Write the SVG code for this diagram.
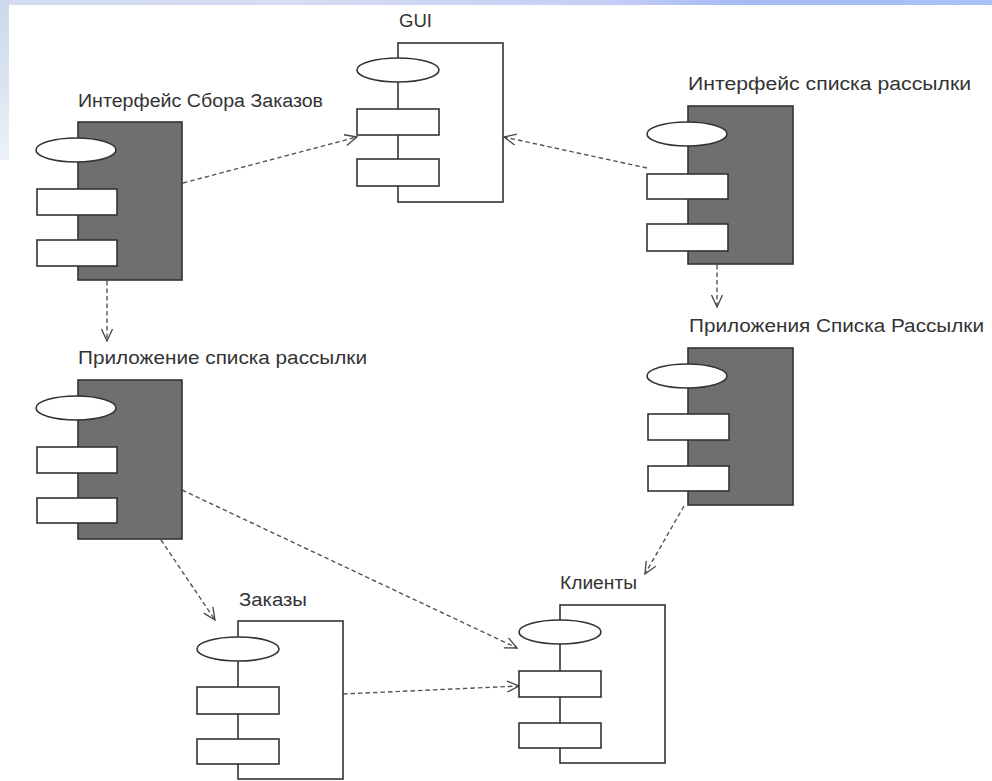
<svg xmlns="http://www.w3.org/2000/svg" width="992" height="781" viewBox="0 0 992 781">
  <defs>
    <linearGradient id="topBand" x1="0" y1="0" x2="1" y2="0">
      <stop offset="0" stop-color="#d3ddef"/>
      <stop offset="0.3" stop-color="#d6dcf2"/>
      <stop offset="0.62" stop-color="#c4cdf6"/>
      <stop offset="0.75" stop-color="#a5b9f6"/>
      <stop offset="1" stop-color="#aac2f6"/>
    </linearGradient>
    <linearGradient id="sideBand" x1="0" y1="0" x2="0" y2="1">
      <stop offset="0" stop-color="#cdd9ec"/>
      <stop offset="0.5" stop-color="#d9e3f0"/>
      <stop offset="1" stop-color="#eef2f8"/>
    </linearGradient>
    <marker id="open" viewBox="0 0 14 14" refX="13" refY="7" markerWidth="14" markerHeight="14" markerUnits="userSpaceOnUse" orient="auto">
      <path d="M1,1.5 L13,7 L1,12.5" fill="none" stroke="#444" stroke-width="1.3"/>
    </marker>
  </defs>
  <style>
    .box-dark { fill: #6f6f6f; stroke: #333; stroke-width: 1.6; }
    .box-light { fill: #fff; stroke: #333; stroke-width: 1.6; }
    .port { fill: #fff; stroke: #333; stroke-width: 1.6; }
    .label { font-family: "Liberation Sans", Arial, sans-serif; font-size: 18px; fill: #333; }
    .dep { fill: none; stroke: #555; stroke-width: 1.4; stroke-dasharray: 4.5 3; marker-end: url(#open); }
  </style>

  <!-- page background with faded blue band along top and upper left -->
  <rect x="0" y="0" width="992" height="781" fill="#fff"/>
  <rect x="0" y="0" width="992" height="5" fill="url(#topBand)"/>
  <rect x="0" y="0" width="9" height="160" fill="url(#sideBand)"/>

  <!-- dependencies -->
  <g id="connectors">
    <path class="dep" d="M183,183 L357,137"/>
    <path class="dep" d="M647,168 L504,137"/>
    <path class="dep" d="M717,265 L717,307"/>
    <path class="dep" d="M107,281 L107,341"/>
    <path class="dep" d="M182,490 L517,648"/>
    <path class="dep" d="M161,540 L215,620"/>
    <path class="dep" d="M343,694 L519,686"/>
    <path class="dep" d="M684,506 L645,574"/>
  </g>

  <!-- component: box 104x158, lollipop and two ports on the left edge -->
  <g id="order-collection-ui">
    <rect class="box-dark" x="78" y="122" width="104" height="158"/>
    <ellipse class="port" cx="76" cy="150" rx="40" ry="12"/>
    <rect class="port" x="37" y="189" width="80" height="26"/>
    <rect class="port" x="37" y="240" width="80" height="26"/>
    <text class="label" x="78" y="107" textLength="245" lengthAdjust="spacingAndGlyphs">Интерфейс Сбора Заказов</text>
  </g>

  <g id="gui">
    <rect class="box-light" x="398" y="43" width="105" height="159"/>
    <ellipse class="port" cx="398" cy="70" rx="41" ry="12"/>
    <rect class="port" x="357" y="109" width="82" height="26"/>
    <rect class="port" x="357" y="159" width="82" height="27"/>
    <text class="label" x="399" y="27" textLength="33" lengthAdjust="spacingAndGlyphs">GUI</text>
  </g>

  <g id="mailing-list-ui">
    <rect class="box-dark" x="688" y="106" width="105" height="158"/>
    <ellipse class="port" cx="687" cy="134" rx="40" ry="12"/>
    <rect class="port" x="647" y="174" width="81" height="25"/>
    <rect class="port" x="647" y="224" width="81" height="27"/>
    <text class="label" x="688" y="90" textLength="283" lengthAdjust="spacingAndGlyphs">Интерфейс списка рассылки</text>
  </g>

  <g id="mailing-list-apps">
    <rect class="box-dark" x="688" y="348" width="105" height="157"/>
    <ellipse class="port" cx="687" cy="376" rx="40" ry="12"/>
    <rect class="port" x="648" y="414" width="81" height="26"/>
    <rect class="port" x="648" y="466" width="81" height="25"/>
    <text class="label" x="689" y="332" textLength="295" lengthAdjust="spacingAndGlyphs">Приложения Списка Рассылки</text>
  </g>

  <g id="mailing-list-app">
    <rect class="box-dark" x="78" y="380" width="104" height="159"/>
    <ellipse class="port" cx="76" cy="408" rx="40" ry="12"/>
    <rect class="port" x="37" y="447" width="80" height="26"/>
    <rect class="port" x="37" y="498" width="80" height="25"/>
    <text class="label" x="78" y="364" textLength="289" lengthAdjust="spacingAndGlyphs">Приложение списка рассылки</text>
  </g>

  <g id="orders">
    <rect class="box-light" x="238" y="621" width="105" height="158"/>
    <ellipse class="port" cx="238" cy="649" rx="41" ry="12"/>
    <rect class="port" x="197" y="687" width="82" height="27"/>
    <rect class="port" x="197" y="739" width="82" height="25"/>
    <text class="label" x="239" y="606" textLength="68" lengthAdjust="spacingAndGlyphs">Заказы</text>
  </g>

  <g id="clients">
    <rect class="box-light" x="560" y="605" width="105" height="158"/>
    <ellipse class="port" cx="560" cy="632" rx="41" ry="12"/>
    <rect class="port" x="519" y="671" width="82" height="26"/>
    <rect class="port" x="519" y="723" width="82" height="25"/>
    <text class="label" x="560" y="589" textLength="77" lengthAdjust="spacingAndGlyphs">Клиенты</text>
  </g>
</svg>
